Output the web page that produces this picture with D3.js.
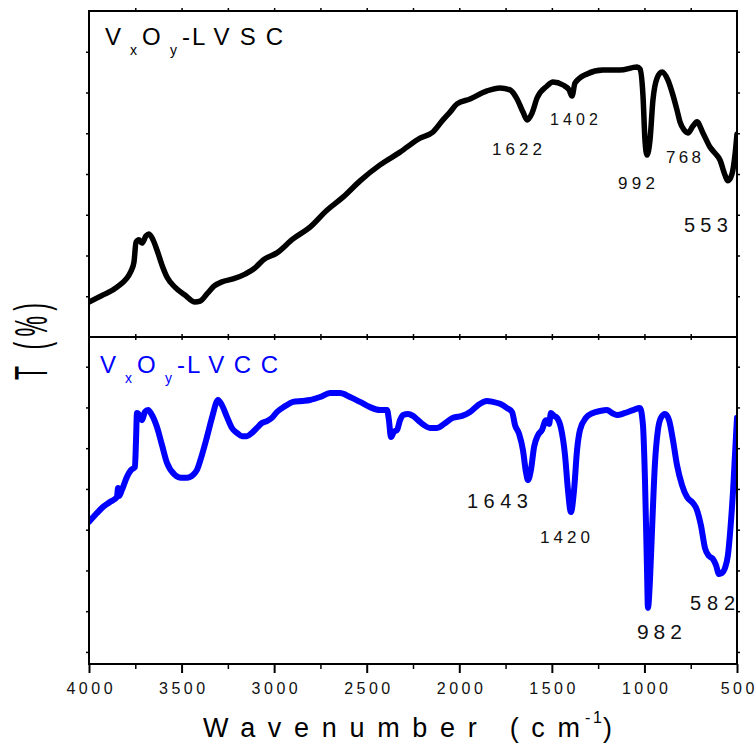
<!DOCTYPE html>
<html><head><meta charset="utf-8">
<script src="https://cdn.jsdelivr.net/npm/d3@7"></script>
<style>html,body{margin:0;padding:0;background:#fff;}svg{display:block;}text{font-family:"Liberation Sans",Arial,sans-serif;}</style>
</head><body><svg id="c" width="756" height="744"></svg>
<script>
// ---- data ----
const lvscWn = [4000,3924,3849,3773,3757,3746,3730,3714,3692,3676,3654,3633,3606,3579,3536,3482,3428,3400,3363,3325,3282,3222,3157,3103,3060,2985,2898,2806,2715,2628,2536,2428,2320,2212,2142,2088,2050,2012,1942,1850,1780,1726,1688,1656,1634,1607,1580,1526,1494,1440,1407,1391,1375,1310,1224,1132,1040,1024,1008,997,986,970,954,932,905,873,846,824,808,786,765,738,716,684,646,619,592,565,549,527,511,500];
const lvscT  = [10.7,12.9,15.3,20.2,23.0,29.1,29.8,28.8,31.0,31.6,29.8,26.7,22.1,18.4,15.3,12.9,10.7,11.0,13.2,15.6,16.9,17.8,19.3,21.2,23.6,25.8,30.1,33.7,38.9,42.9,47.9,52.8,56.7,61.0,62.9,66.6,69.0,71.5,73.0,75.5,76.4,75.8,73.0,69.0,66.6,68.7,73.3,77.0,78.2,77.3,75.8,73.9,77.9,80.7,81.9,81.9,82.8,82.2,74.2,60.4,55.8,60.4,72.7,79.4,81.3,78.8,74.2,69.6,66.0,63.5,62.6,64.7,66.0,62.6,58.3,56.4,54.3,49.7,47.9,50.0,55.8,62.3];

const lvccWn = [4000,3962,3924,3887,3849,3843,3838,3822,3795,3773,3752,3746,3741,3725,3714,3698,3681,3660,3633,3606,3579,3536,3503,3471,3438,3417,3390,3363,3336,3303,3282,3255,3228,3201,3174,3147,3120,3093,3066,3039,3012,2985,2941,2898,2850,2806,2752,2698,2644,2590,2536,2482,2428,2390,2380,2369,2353,2336,2320,2304,2277,2250,2223,2191,2158,2120,2083,2034,1985,1942,1899,1850,1818,1780,1742,1715,1699,1677,1656,1640,1629,1613,1596,1575,1553,1532,1515,1505,1488,1472,1451,1429,1413,1397,1380,1364,1348,1316,1278,1240,1202,1175,1148,1105,1062,1024,1008,997,986,981,970,959,943,927,911,889,867,846,824,797,770,738,716,695,673,651,630,614,597,581,565,549,532,521,511,500];
const lvccT  = [43.6,46.0,48.2,49.7,51.2,54.0,51.5,53.4,57.4,59.5,60.4,68.7,77.0,76.1,74.8,77.3,77.9,76.4,72.7,67.2,61.7,58.0,57.1,57.1,58.0,59.5,64.1,69.6,75.5,81.0,79.4,75.8,72.4,70.9,69.9,69.9,70.9,72.4,73.9,74.5,75.5,77.3,79.1,80.4,80.7,81.0,81.9,83.1,83.1,81.9,80.4,78.8,77.9,77.9,74.8,69.6,71.2,71.8,74.8,76.4,76.7,76.1,74.8,73.3,72.4,72.4,73.6,75.5,76.1,77.3,79.4,80.7,80.4,79.8,78.5,77.3,73.3,70.6,65.6,58.9,56.4,59.5,66.6,70.2,71.8,74.8,73.6,77.0,76.1,75.5,72.4,64.1,53.4,46.6,53.4,65.6,71.8,75.5,77.0,77.6,77.9,77.0,76.4,77.0,77.9,78.5,73.3,56.4,28.8,17.2,25.8,41.1,61.7,71.8,75.5,76.7,74.8,68.7,61.0,54.9,51.2,49.4,47.2,42.6,35.6,33.1,32.2,30.4,27.6,27.9,29.4,33.4,44.2,53.4,64.1,75.5];

const xTickValues = [4000,3500,3000,2500,2000,1500,1000,500];
const xMinorTicks = [3750,3250,2750,2250,1750,1250,750];
const xTickLabels = ["4000","3500","3000","2500","2000","1500","1000","500"];
const yTicksTop = [12.5,25,37.5,50,62.5,75,87.5];
const yTicksBottom = [3.7,16.2,28.7,41.2,53.7,66.2,78.7,91.2];

const lvscPeaks = ["1622","1402","992","768","553"];
const lvscPeakWn = [1688,1381,1043,789,668];
const lvscPeakT = [55.8,65.0,45.4,53.4,32.2];
const lvccPeaks = ["1643","1420","982","582"];
const lvccPeakWn = [1794,1429,919,632];
const lvccPeakT = [47.9,37.1,7.7,16.6];

// ---- layout / style ----
const L = 89, R = 737, T0 = 11, MID = 337, B = 664;
const lvscPeakStyle = [{fs:17,w:50},{fs:16,w:48},{fs:17,w:37},{fs:17,w:35},{fs:20,w:44}];
const lvccPeakStyle = [{fs:20,w:61},{fs:17,w:50},{fs:21,w:45},{fs:20,w:45}];

const svg = d3.select("#c");
const x = d3.scaleLinear().domain([4000,500]).range([L,R]);
const yTop = d3.scaleLinear().domain([0,100]).range([MID,T0]);
const yBot = d3.scaleLinear().domain([0,100]).range([B,MID+1]);

const defs = svg.append("defs");
defs.append("clipPath").attr("id","clipTop").append("rect").attr("x",L).attr("y",T0).attr("width",R-L).attr("height",MID-T0);
defs.append("clipPath").attr("id","clipBot").append("rect").attr("x",L).attr("y",MID).attr("width",R-L).attr("height",B-MID);

function drawCurve(wn, tv, y, color, clip, sw){
  const pts = wn.map((w,i)=>[w,tv[i]]);
  const line = d3.line().x(d=>x(d[0])).y(d=>y(d[1])).curve(d3.curveMonotoneX);
  svg.append("path").datum(pts).attr("d",line).attr("fill","none")
    .attr("stroke",color).attr("stroke-width",sw).attr("stroke-linejoin","round").attr("stroke-linecap","round")
    .attr("clip-path",`url(#${clip})`);
}
drawCurve(lvscWn, lvscT, yTop, "#000", "clipTop", 5.5);
drawCurve(lvccWn, lvccT, yBot, "#0000ff", "clipBot", 6);

function strip(g){ g.select(".domain").remove(); g.selectAll("text").remove(); g.selectAll("line").attr("stroke","#000").attr("stroke-width",1.5); }
const gxb = svg.append("g").attr("transform",`translate(0,${B})`)
  .call(d3.axisBottom(x).tickValues(xTickValues).tickSize(9).tickSizeOuter(0));
gxb.select(".domain").remove();
gxb.selectAll("line").attr("stroke","#000").attr("stroke-width",2);
gxb.selectAll("text").remove();
gxb.selectAll(".tick").append("text")
  .attr("y",30).attr("text-anchor","middle").attr("fill","#111").attr("font-size",16)
  .text((d,i)=>xTickLabels[i])
  .attr("textLength",(d,i)=>xTickLabels[i].length*8.9+(xTickLabels[i].length-1)*3.5)
  .attr("lengthAdjust","spacing");
svg.append("g").attr("transform",`translate(0,${B})`)
  .call(d3.axisBottom(x).tickValues(xMinorTicks).tickSize(5).tickSizeOuter(0)).call(strip);
const inner = xMinorTicks.concat(xTickValues.slice(1,-1));
svg.append("g").attr("transform",`translate(0,${T0})`)
  .call(d3.axisTop(x).tickValues(inner).tickSize(3).tickSizeOuter(0)).call(strip);
svg.append("g").attr("transform",`translate(0,${MID})`)
  .call(d3.axisBottom(x).tickValues(inner).tickSize(3).tickSizeOuter(0)).call(strip);
svg.append("g").attr("transform",`translate(0,${MID})`)
  .call(d3.axisTop(x).tickValues(inner).tickSize(3).tickSizeOuter(0)).call(strip);
[[yTop,yTicksTop],[yBot,yTicksBottom]].forEach(([ys,tv])=>{
  svg.append("g").attr("transform",`translate(${L},0)`).call(d3.axisLeft(ys).tickValues(tv).tickSize(3).tickSizeOuter(0)).call(strip);
  svg.append("g").attr("transform",`translate(${R},0)`).call(d3.axisRight(ys).tickValues(tv).tickSize(3).tickSizeOuter(0)).call(strip);
});

svg.append("rect").attr("x",L).attr("y",T0).attr("width",R-L).attr("height",MID-T0).attr("fill","none").attr("stroke","#000").attr("stroke-width",2);
svg.append("rect").attr("x",L).attr("y",MID).attr("width",R-L).attr("height",B-MID).attr("fill","none").attr("stroke","#000").attr("stroke-width",2);

function peaks(labels, wn, tv, y, st){
  labels.forEach((lab,i)=>{
    svg.append("text").attr("x",x(wn[i])).attr("y",y(tv[i])).attr("text-anchor","middle")
      .attr("font-size",st[i].fs).attr("fill","#111").attr("textLength",st[i].w).attr("lengthAdjust","spacing").text(lab);
  });
}
peaks(lvscPeaks, lvscPeakWn, lvscPeakT, yTop, lvscPeakStyle);
peaks(lvccPeaks, lvccPeakWn, lvccPeakT, yBot, lvccPeakStyle);

function title(x0, base, color, suffix){
  const g = svg.append("g").attr("fill",color);
  g.append("text").attr("x",x0).attr("y",base).attr("font-size",24).text("V");
  g.append("text").attr("x",x0+25).attr("y",base+10).attr("font-size",14).text("x");
  g.append("text").attr("x",x0+37).attr("y",base).attr("font-size",24).text("O");
  g.append("text").attr("x",x0+65).attr("y",base+10).attr("font-size",14).text("y");
  g.append("text").attr("x",x0+77).attr("y",base).attr("font-size",24).text("-");
  g.append("text").attr("x",x0+87).attr("y",base).attr("font-size",24)
    .attr("textLength",91).attr("lengthAdjust","spacing").text(suffix);
}
title(105, 45, "#000", "LVSC");
title(100, 373, "#0000ff", "LVCC");

svg.append("text").attr("x",203).attr("y",737).attr("font-size",27).attr("textLength",377).attr("lengthAdjust","spacing").text("Wavenumber (cm");
svg.append("text").attr("x",585).attr("y",723).attr("font-size",16).attr("textLength",17).attr("lengthAdjust","spacing").text("-1");
svg.append("text").attr("x",603).attr("y",737).attr("font-size",27).text(")");

svg.append("text").attr("transform","translate(47,380) rotate(-90) scale(1,2.0)")
  .attr("font-size",23).attr("textLength",77).attr("lengthAdjust","spacing").text("T (%)");
</script></body></html>
